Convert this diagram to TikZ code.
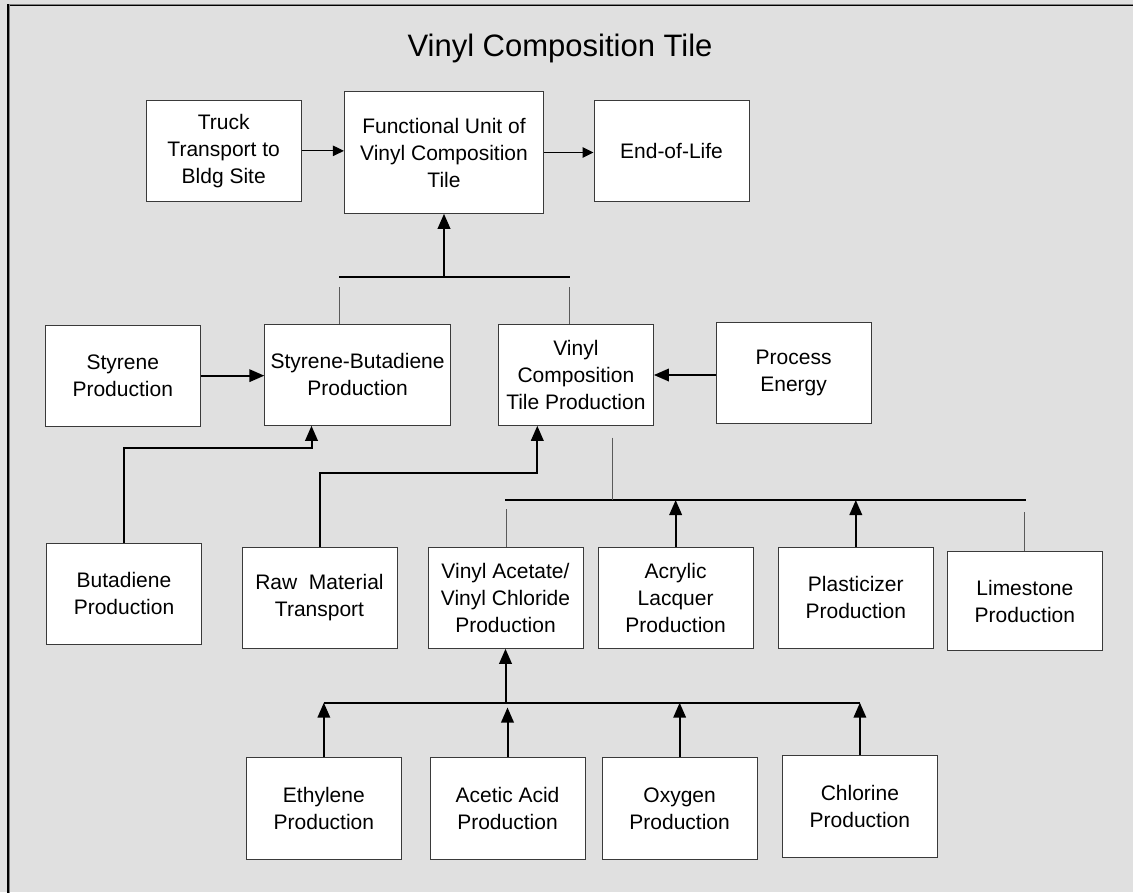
\documentclass[tikz,border=0pt]{standalone}
\usepackage{fontspec}
\setmainfont{Liberation Sans}
\usetikzlibrary{arrows.meta}
\definecolor{bgc}{HTML}{E0E0E0}
\definecolor{boxline}{HTML}{3A3A3A}
\definecolor{thinc}{HTML}{5A5A5A}
\tikzset{
  procbox/.style={draw=boxline, fill=white, line width=1pt, inner sep=0pt,
    minimum width=155pt, minimum height=101.3pt, align=center,
    font=\fontsize{21}{27}\selectfont},
  thinarr/.style={draw=black, line width=1pt, -{Triangle[length=11pt,width=10.5pt]}},
  thickarr/.style={draw=black, line width=2pt, -{Triangle[length=15pt,width=12.5pt]}},
  busline/.style={draw=black, line width=2.2pt},
  stub/.style={draw=thinc, line width=1pt}
}
\begin{document}
\begin{tikzpicture}[x=1pt,y=-1pt]
\useasboundingbox (0,0) rectangle (1133,892);
\fill[bgc] (0,0) rectangle (1133,892);
\draw[black, line width=2pt] (8.3,900) -- (8.3,5) -- (1140,5);
\draw[gray, line width=0.8pt] (9.8,900) -- (9.8,4) -- (1140,4);

\node[anchor=base, font=\fontsize{31}{36}\selectfont] (title) at (560,56) {Vinyl Composition Tile};

% boxes
\node[procbox] (truck) at (223.7,150.85) {Truck\\Transport to\\Bldg Site};
\node[procbox, minimum width=199.2pt, minimum height=121.6pt] (func) at (444,152.5) {Functional Unit of\\Vinyl Composition\\Tile};
\node[procbox] (eol) at (671.5,150.85) {End-of-Life};
\node[procbox] (styrene) at (122.75,375.65) {Styrene\\Production};
\node[procbox, minimum width=185.6pt] (sb) at (357.6,374.65) {Styrene-Butadiene\\Production};
\node[procbox] (vctp) at (575.9,374.65) {Vinyl\\Composition\\Tile Production};
\node[procbox] (pe) at (793.65,373) {Process\\Energy};
\node[procbox] (butadiene) at (124,593.65) {Butadiene\\Production};
\node[procbox] (raw) at (319.5,597.65) {Raw\ \ Material\\Transport};
\node[procbox] (va) at (505.5,597.65) {Vinyl Acetate/\\Vinyl Chloride\\Production};
\node[procbox] (acrylic) at (675.65,597.65) {Acrylic\\Lacquer\\Production};
\node[procbox] (plast) at (855.8,597.65) {Plasticizer\\Production};
\node[procbox, minimum height=99pt] (lime) at (1024.85,601.2) {Limestone\\Production};
\node[procbox] (eth) at (323.85,808.35) {Ethylene\\Production};
\node[procbox] (acetic) at (507.5,808.35) {Acetic Acid\\Production};
\node[procbox] (oxy) at (679.65,808.35) {Oxygen\\Production};
\node[procbox] (chlor) at (859.9,806.35) {Chlorine\\Production};

% top row arrows
\draw[thinarr] (truck.east) -- (truck.east -| func.west);
\draw[thinarr] (func.east) -- (func.east -| eol.west);

% bus 1
\coordinate (b1l) at (339,276.7);
\coordinate (b1r) at (570,276.7);
\draw[busline] (b1l) -- (b1r);
\draw[thickarr] (func.south |- b1l) -- (func.south);
\coordinate (t1) at (339,287.3);
\coordinate (t2) at (569.5,287.3);
\draw[stub] (t1) -- (t1 |- sb.north);
\draw[stub] (t2) -- (t2 |- vctp.north);

% side arrows
\draw[thickarr] (styrene.east) -- (styrene.east -| sb.west);
\draw[thickarr] ([yshift=-2pt]pe.west) -- ([yshift=-2pt]pe.west -| vctp.east);

% elbow connectors
\coordinate (k1) at (311.5,447.7);
\draw[thickarr] (butadiene.north) |- (k1) -- (k1 |- sb.south);
\coordinate (k2) at (537.3,473.3);
\draw[thickarr] (raw.north) |- (k2) -- (k2 |- vctp.south);

% bus 2
\coordinate (b2l) at (505,500);
\coordinate (b2r) at (1025.6,500);
\draw[busline] (b2l) -- (b2r);
\coordinate (t3) at (612.6,437.7);
\draw[stub] (t3) -- (t3 |- b2l);
\coordinate (t4) at (506,509.3);
\draw[stub] (t4) -- (t4 |- va.north);
\coordinate (t5) at (1024.9,512);
\draw[stub] (t5) -- (t5 |- lime.north);
\draw[thickarr] (acrylic.north) -- (acrylic.north |- b2l);
\draw[thickarr] (plast.north) -- (plast.north |- b2l);

% bus 3
\coordinate (b3l) at (323.6,702.7);
\coordinate (b3r) at (860.2,702.7);
\draw[busline] (b3l) -- (b3r);
\draw[thickarr] (va.south |- b3l) -- (va.south);
\coordinate (b3a) at (507.8,707.5);
\draw[thickarr] (eth.north) -- (eth.north |- b3l);
\draw[thickarr] (acetic.north) -- (acetic.north |- b3a);
\draw[thickarr] (oxy.north) -- (oxy.north |- b3l);
\draw[thickarr] (chlor.north) -- (chlor.north |- b3l);
\end{tikzpicture}
\end{document}
